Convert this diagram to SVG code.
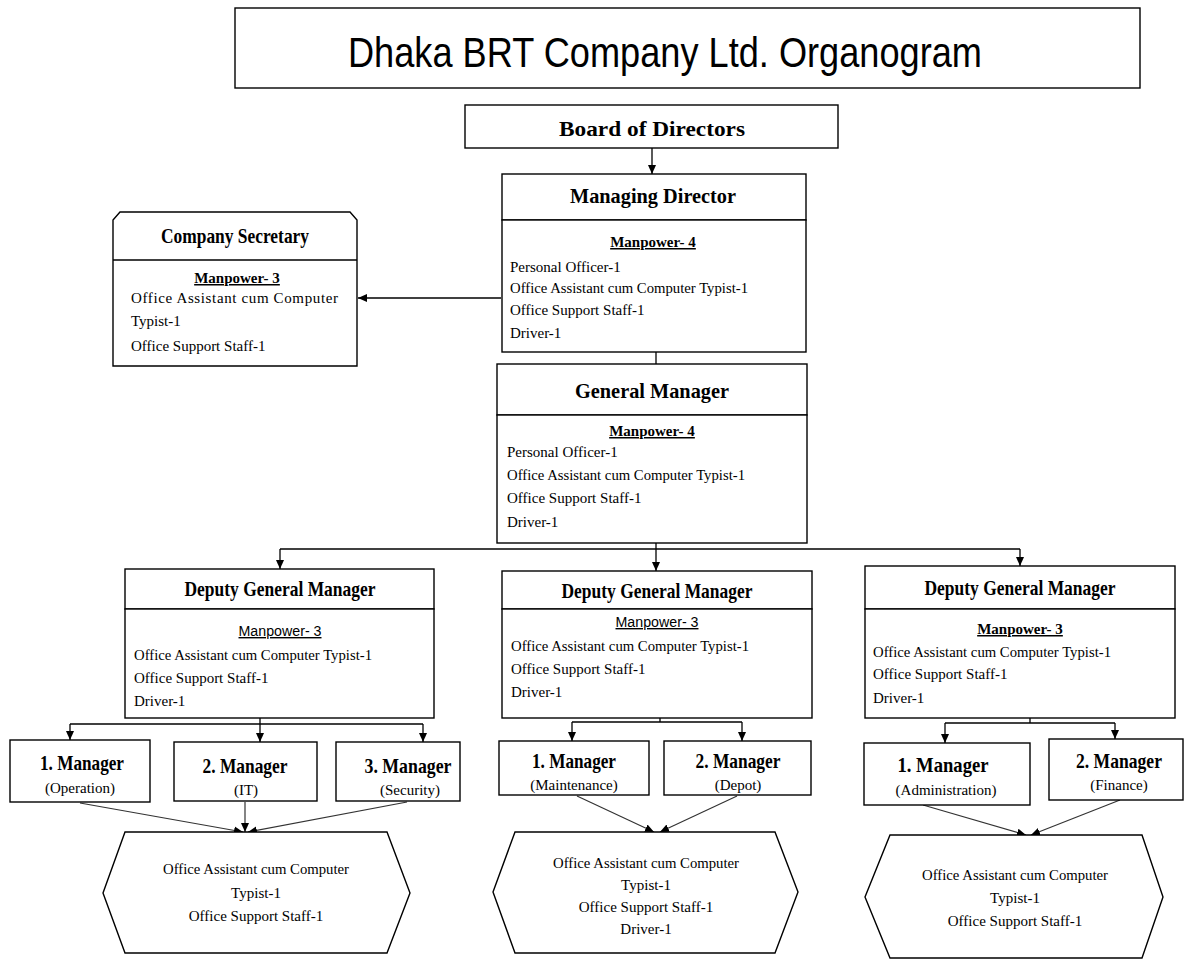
<svg xmlns="http://www.w3.org/2000/svg" width="1187" height="960" viewBox="0 0 1187 960">
<style>
.box{fill:#fff;stroke:#000;stroke-width:1.4}
.ln{fill:none;stroke:#000;stroke-width:1.3}
.gl{fill:none;stroke:#333;stroke-width:1.2}
.hd{font-family:"Liberation Serif",serif;font-weight:bold;font-size:22px;fill:#000;text-anchor:middle}
.mg{font-family:"Liberation Serif",serif;font-weight:bold;font-size:21px;fill:#000;text-anchor:middle}
.sb{font-family:"Liberation Serif",serif;font-size:15px;fill:#000;text-anchor:middle}
.bd{font-family:"Liberation Serif",serif;font-size:15px;fill:#000}
.hx{font-family:"Liberation Serif",serif;font-size:15px;fill:#000;text-anchor:middle}
.mp{font-family:"Liberation Serif",serif;font-weight:bold;font-size:15px;fill:#000;text-anchor:middle;text-decoration:underline}
.ms{font-family:"Liberation Sans",sans-serif;font-size:14px;fill:#000;text-anchor:middle;text-decoration:underline}
</style>
<defs>
<marker id="ah" markerWidth="10" markerHeight="10" refX="9" refY="5" orient="auto" markerUnits="userSpaceOnUse">
<path d="M0,1 L9,5 L0,9 z" fill="#000"/>
</marker>
</defs>
<rect width="1187" height="960" fill="#fff"/>

<g id="title">
<rect class="box" x="235" y="8" width="905" height="80"/>
<text x="348" y="67" font-family="Liberation Sans, sans-serif" font-size="43" textLength="634" lengthAdjust="spacingAndGlyphs">Dhaka BRT Company Ltd. Organogram</text>
</g>

<g id="connectors">
<line class="ln" x1="652" y1="148" x2="652" y2="174" marker-end="url(#ah)"/>
<line class="ln" x1="501" y1="298" x2="358" y2="298" marker-end="url(#ah)"/>
<line class="ln" x1="656" y1="352" x2="656" y2="364"/>
<line class="ln" x1="656" y1="543" x2="656" y2="549"/>
<line class="ln" x1="280" y1="549" x2="1020" y2="549"/>
<line class="ln" x1="280" y1="549" x2="280" y2="569" marker-end="url(#ah)"/>
<line class="ln" x1="656" y1="549" x2="656" y2="571" marker-end="url(#ah)"/>
<line class="ln" x1="1020" y1="549" x2="1020" y2="566" marker-end="url(#ah)"/>
<line class="ln" x1="260" y1="718" x2="260" y2="724"/>
<line class="ln" x1="70" y1="724" x2="423" y2="724"/>
<line class="ln" x1="70" y1="724" x2="70" y2="740" marker-end="url(#ah)"/>
<line class="ln" x1="260" y1="724" x2="260" y2="742" marker-end="url(#ah)"/>
<line class="ln" x1="423" y1="724" x2="423" y2="742" marker-end="url(#ah)"/>
<line class="ln" x1="660" y1="718" x2="660" y2="722"/>
<line class="ln" x1="572" y1="722" x2="742" y2="722"/>
<line class="ln" x1="572" y1="722" x2="572" y2="741" marker-end="url(#ah)"/>
<line class="ln" x1="742" y1="722" x2="742" y2="741" marker-end="url(#ah)"/>
<line class="ln" x1="1030" y1="718" x2="1030" y2="723"/>
<line class="ln" x1="945" y1="723" x2="1115" y2="723"/>
<line class="ln" x1="945" y1="723" x2="945" y2="743" marker-end="url(#ah)"/>
<line class="ln" x1="1115" y1="723" x2="1115" y2="739" marker-end="url(#ah)"/>
<line class="gl" x1="80" y1="803" x2="243" y2="832" marker-end="url(#ah)"/>
<line class="gl" x1="245" y1="802" x2="245" y2="832" marker-end="url(#ah)"/>
<line class="gl" x1="407" y1="802" x2="248" y2="832" marker-end="url(#ah)"/>
<line class="gl" x1="577" y1="796" x2="654" y2="832" marker-end="url(#ah)"/>
<line class="gl" x1="737" y1="796" x2="660" y2="832" marker-end="url(#ah)"/>
<line class="gl" x1="923" y1="805" x2="1026" y2="835" marker-end="url(#ah)"/>
<line class="gl" x1="1120" y1="800" x2="1031" y2="835" marker-end="url(#ah)"/>
</g>

<g id="board">
<rect class="box" x="465" y="105" width="373" height="43"/>
<text class="hd" x="652" y="136" textLength="186" lengthAdjust="spacingAndGlyphs">Board of Directors</text>
</g>

<g id="md">
<rect class="box" x="502" y="174" width="304" height="46"/>
<rect class="box" x="502" y="220" width="304" height="132"/>
<text class="hd" x="653" y="203" textLength="166" lengthAdjust="spacingAndGlyphs">Managing Director</text>
<text class="mp" x="653" y="247">Manpower- 4</text>
<text class="bd" x="510" y="272">Personal Officer-1</text>
<text class="bd" x="510" y="293" textLength="238" lengthAdjust="spacingAndGlyphs">Office Assistant cum Computer Typist-1</text>
<text class="bd" x="510" y="315">Office Support Staff-1</text>
<text class="bd" x="510" y="338">Driver-1</text>
</g>

<g id="cs">
<path class="box" d="M113,366 V220 L120,212 H350 L357,220 V366 Z"/>
<line class="ln" x1="113" y1="260" x2="357" y2="260"/>
<text class="hd" x="235" y="243" font-size="19" textLength="148" lengthAdjust="spacingAndGlyphs">Company Secretary</text>
<text class="mp" x="237" y="283">Manpower- 3</text>
<text class="bd" x="131" y="303" textLength="207" lengthAdjust="spacing">Office Assistant cum Computer</text>
<text class="bd" x="131" y="326">Typist-1</text>
<text class="bd" x="131" y="351">Office Support Staff-1</text>
</g>

<g id="gm">
<rect class="box" x="497" y="364" width="310" height="51"/>
<rect class="box" x="497" y="415" width="310" height="128"/>
<text class="hd" x="652" y="398" textLength="154" lengthAdjust="spacingAndGlyphs">General Manager</text>
<text class="mp" x="652" y="436">Manpower- 4</text>
<text class="bd" x="507" y="457">Personal Officer-1</text>
<text class="bd" x="507" y="480" textLength="238" lengthAdjust="spacingAndGlyphs">Office Assistant cum Computer Typist-1</text>
<text class="bd" x="507" y="503">Office Support Staff-1</text>
<text class="bd" x="507" y="527">Driver-1</text>
</g>

<g id="dgm1">
<rect class="box" x="125" y="569" width="309" height="40"/>
<rect class="box" x="125" y="609" width="309" height="109"/>
<text class="hd" x="280" y="596" font-size="20" textLength="191" lengthAdjust="spacingAndGlyphs">Deputy General Manager</text>
<text class="ms" x="280" y="636" textLength="83" lengthAdjust="spacingAndGlyphs">Manpower- 3</text>
<text class="bd" x="134" y="660" textLength="238" lengthAdjust="spacingAndGlyphs">Office Assistant cum Computer Typist-1</text>
<text class="bd" x="134" y="683">Office Support Staff-1</text>
<text class="bd" x="134" y="706">Driver-1</text>
</g>

<g id="dgm2">
<rect class="box" x="502" y="571" width="310" height="38"/>
<rect class="box" x="502" y="609" width="310" height="109"/>
<text class="hd" x="657" y="598" font-size="20" textLength="191" lengthAdjust="spacingAndGlyphs">Deputy General Manager</text>
<text class="ms" x="657" y="627" textLength="83" lengthAdjust="spacingAndGlyphs">Manpower- 3</text>
<text class="bd" x="511" y="651" textLength="238" lengthAdjust="spacingAndGlyphs">Office Assistant cum Computer Typist-1</text>
<text class="bd" x="511" y="674">Office Support Staff-1</text>
<text class="bd" x="511" y="697">Driver-1</text>
</g>

<g id="dgm3">
<rect class="box" x="865" y="566" width="310" height="43"/>
<rect class="box" x="865" y="609" width="310" height="109"/>
<text class="hd" x="1020" y="595" font-size="20" textLength="191" lengthAdjust="spacingAndGlyphs">Deputy General Manager</text>
<text class="mp" x="1020" y="634">Manpower- 3</text>
<text class="bd" x="873" y="657" textLength="238" lengthAdjust="spacingAndGlyphs">Office Assistant cum Computer Typist-1</text>
<text class="bd" x="873" y="679">Office Support Staff-1</text>
<text class="bd" x="873" y="703">Driver-1</text>
</g>

<g id="m-operation">
<rect class="box" x="10" y="740" width="140" height="62"/>
<text class="mg" x="82" y="770" textLength="84" lengthAdjust="spacingAndGlyphs">1. Manager</text>
<text class="sb" x="80" y="793">(Operation)</text>
</g>
<g id="m-it">
<rect class="box" x="174" y="742" width="143" height="59"/>
<text class="mg" x="245" y="773" textLength="85" lengthAdjust="spacingAndGlyphs">2. Manager</text>
<text class="sb" x="246" y="795">(IT)</text>
</g>
<g id="m-security">
<rect class="box" x="336" y="742" width="124" height="59"/>
<text class="mg" x="408" y="773" textLength="87" lengthAdjust="spacingAndGlyphs">3. Manager</text>
<text class="sb" x="410" y="795">(Security)</text>
</g>
<g id="m-maintenance">
<rect class="box" x="499" y="741" width="150" height="54"/>
<text class="mg" x="574" y="768" textLength="84" lengthAdjust="spacingAndGlyphs">1. Manager</text>
<text class="sb" x="574" y="790">(Maintenance)</text>
</g>
<g id="m-depot">
<rect class="box" x="664" y="741" width="147" height="54"/>
<text class="mg" x="738" y="768" textLength="85" lengthAdjust="spacingAndGlyphs">2. Manager</text>
<text class="sb" x="738" y="790">(Depot)</text>
</g>
<g id="m-administration">
<rect class="box" x="864" y="743" width="166" height="62"/>
<text class="mg" x="943" y="772" textLength="91" lengthAdjust="spacingAndGlyphs">1. Manager</text>
<text class="sb" x="946" y="795">(Administration)</text>
</g>
<g id="m-finance">
<rect class="box" x="1049" y="739" width="134" height="61"/>
<text class="mg" x="1119" y="768" textLength="86" lengthAdjust="spacingAndGlyphs">2. Manager</text>
<text class="sb" x="1119" y="790">(Finance)</text>
</g>

<g id="hex1">
<polygon class="box" points="125,832 387,832 410,893 387,953 125,953 103,893"/>
<text class="hx" x="256" y="874" textLength="186" lengthAdjust="spacingAndGlyphs">Office Assistant cum Computer</text>
<text class="hx" x="256" y="898">Typist-1</text>
<text class="hx" x="256" y="921">Office Support Staff-1</text>
</g>
<g id="hex2">
<polygon class="box" points="515,832 775,832 798,892 775,953 515,953 493,892"/>
<text class="hx" x="646" y="868" textLength="186" lengthAdjust="spacingAndGlyphs">Office Assistant cum Computer</text>
<text class="hx" x="646" y="890">Typist-1</text>
<text class="hx" x="646" y="912">Office Support Staff-1</text>
<text class="hx" x="646" y="934">Driver-1</text>
</g>
<g id="hex3">
<polygon class="box" points="890,835 1142,835 1163,897 1142,958 890,958 865,897"/>
<text class="hx" x="1015" y="880" textLength="186" lengthAdjust="spacingAndGlyphs">Office Assistant cum Computer</text>
<text class="hx" x="1015" y="903">Typist-1</text>
<text class="hx" x="1015" y="926">Office Support Staff-1</text>
</g>
</svg>
